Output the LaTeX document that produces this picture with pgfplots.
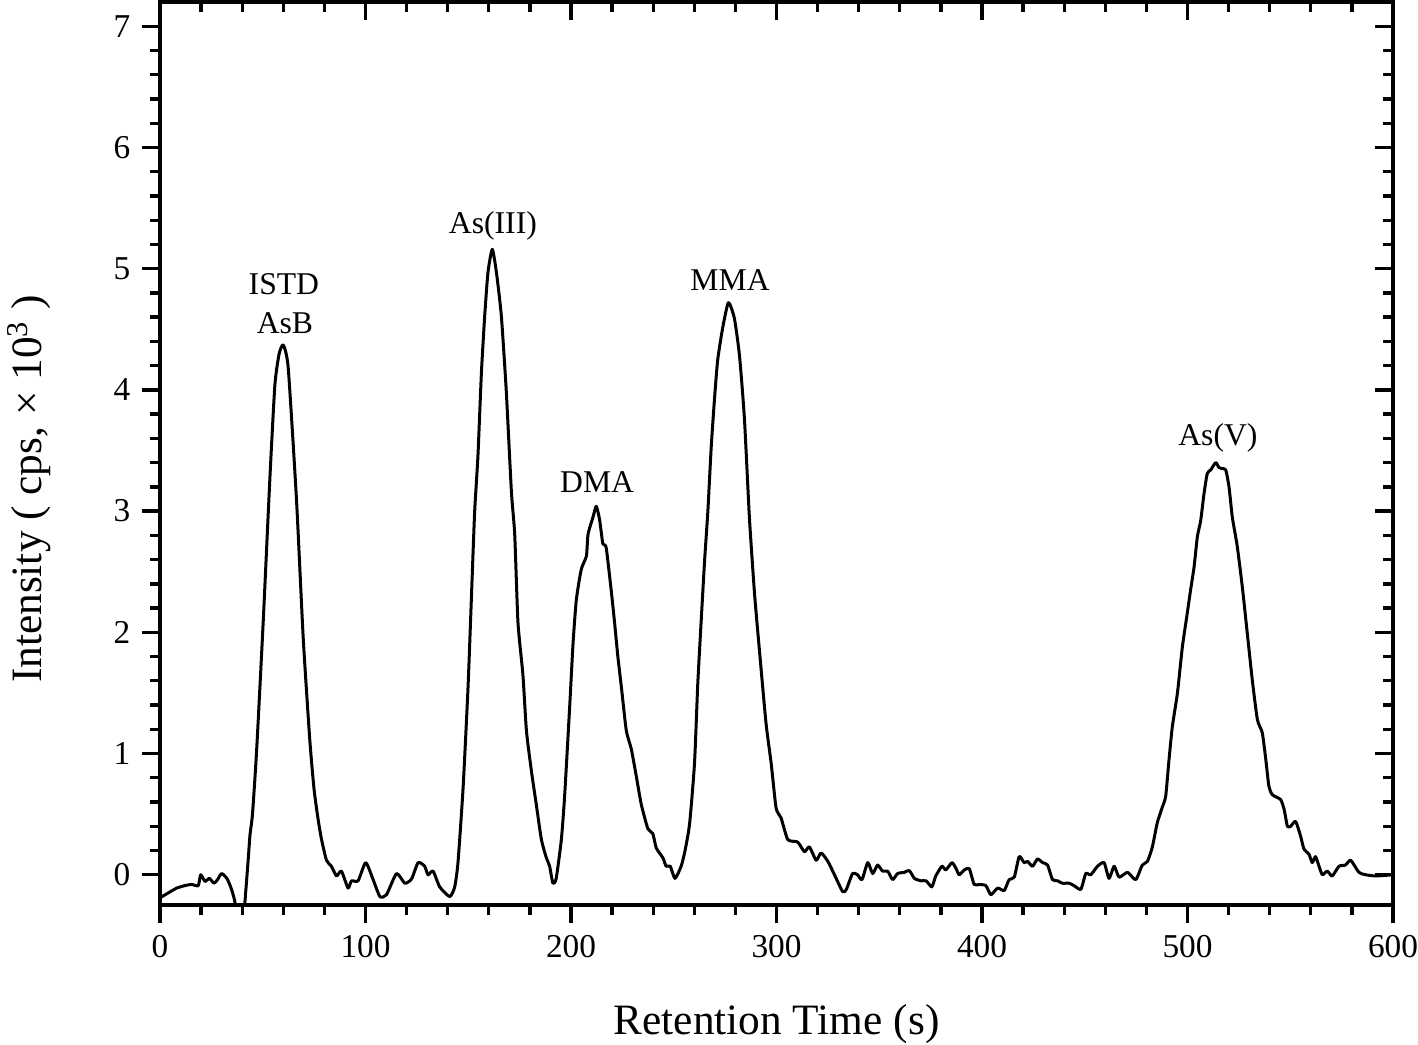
\documentclass[border=0pt]{standalone}
\usepackage{fontspec}
\setmainfont{Liberation Serif}
\usepackage{pgfplots}
\pgfplotsset{compat=1.18}

\pgfplotsset{
  chrom/.style={
    scale only axis, width=369.9pt, height=270.9pt,
    xmin=0, xmax=600, ymin=-0.25, ymax=7.2,
    xtick={0,100,...,600}, ytick={0,1,...,7},
    minor x tick num=4, minor y tick num=4,
    axis line style={line width=1.2pt},
    every tick/.style={black, line width=1pt},
    major tick length=5.4pt, minor tick length=3pt,
    tick label style={font=\fontsize{10}{12}\selectfont},
    /pgf/number format/assume math mode=true,
  }
}

\begin{document}
\begin{tikzpicture}
\begin{axis}[chrom, name=main,
    tick align=outside, tick pos=left,
    xlabel={Retention Time (s)},
    ylabel={Intensity ( cps, × 10\textsuperscript{3} )},
    xlabel style={font=\fontsize{13}{15}\selectfont,
                  at={(axis description cs:0.5,-0.143)}, anchor=base},
    ylabel style={font=\fontsize{13}{15}\selectfont,
                  at={(axis description cs:-0.0957,0.4607)}, anchor=base},
]
\addplot[black, line width=0.9pt, line join=round, smooth, tension=0.35] coordinates {
(0.0,-0.19) (4,-0.15) (8.1,-0.11) (12,-0.09) (15.4,-0.08) (18.6,-0.09)
(19.8,0.0) (21.9,-0.055) (24,-0.03) (26.3,-0.07) (28,-0.04) (30,0.01)
(32.7,-0.035) (34.8,-0.12) (36.5,-0.23) (38.5,-0.5) (40,-0.5) (41.3,-0.23)
(42.9,0.12) (43.8,0.33) (45,0.5) (47.0,1.02) (50.2,2.08) (53.5,3.28)
(55.9,4.04) (58,4.3) (60.0,4.37) (62.4,4.18) (66.4,3.1) (69.7,1.95)
(72.9,1.11) (75,0.7) (77.0,0.45) (78.5,0.3) (81,0.12) (83.4,0.07)
(85.9,-0.01) (88.3,0.03) (91.5,-0.11) (93.2,-0.05) (96.4,-0.05) (100.1,0.1)
(103.7,-0.04) (107,-0.18) (110.2,-0.165) (115.1,0.01) (119.1,-0.07)
(122.4,-0.035) (125.6,0.1) (128.8,0.07) (130.4,0.0) (132.9,0.03)
(136.1,-0.1) (141,-0.18) (143.4,-0.1) (145,0.1) (147.5,0.72) (149.9,1.55)
(151.5,2.27) (153.1,2.99) (154.7,3.45) (156.4,4.14) (158,4.61) (159.6,4.97)
(161.7,5.16) (163.7,4.97) (166.1,4.61) (168.5,3.99) (171,3.16) (172.6,2.81)
(174.2,2.08) (176.6,1.65) (178.3,1.19) (180.7,0.86) (183.1,0.58)
(185.6,0.29) (188,0.14) (189.6,0.07) (191.2,-0.07) (192.8,-0.03)
(195.3,0.29) (196.9,0.65) (199.3,1.37) (201,1.91) (202.6,2.27) (205,2.52)
(207.5,2.63) (208.3,2.81) (210.7,2.95) (212.3,3.04) (213.9,2.93)
(215.5,2.73) (217.1,2.7) (219.6,2.34) (221.2,2.08) (222.8,1.8) (224.5,1.55)
(226.9,1.19) (229.3,1.04) (231.7,0.82) (234.2,0.58) (237.4,0.38)
(239.8,0.34) (241.5,0.22) (244.7,0.14) (246.3,0.07) (248.3,0.07)
(250.6,-0.03) (253.6,0.07) (255.5,0.2) (257.7,0.42) (260.1,0.92)
(261.7,1.58) (263.3,2.08) (265,2.59) (266.6,3.0) (268.2,3.52) (269.8,3.92)
(271.4,4.25) (273.9,4.52) (276.6,4.72) (279.5,4.59) (282,4.28) (284.4,3.76)
(286.8,2.95) (289.3,2.32) (291.7,1.85) (294.9,1.25) (297.4,0.92)
(299.8,0.55) (302.2,0.47) (305.5,0.29) (310.3,0.27) (313.6,0.19)
(316,0.23) (319.3,0.12) (321.7,0.18) (325,0.11) (328.2,0.0) (332.2,-0.14)
(334,-0.12) (337,0.01) (339.4,0.0) (341.6,-0.04) (344.4,0.1) (346.8,0.01)
(349.2,0.08) (351.6,0.03) (354.1,0.03) (356.5,-0.04) (358.9,0.01)
(362.2,0.02) (364.6,0.035) (367.1,-0.03) (370.3,-0.05) (372.8,-0.05)
(375.6,-0.1) (377.5,-0.01) (380.5,0.07) (382.4,0.04) (385.4,0.1)
(387.4,0.05) (388.9,0.0) (391.4,0.04) (393.8,0.05) (396.2,-0.08)
(398.7,-0.08) (401.9,-0.09) (404.3,-0.165) (407.6,-0.11) (410.8,-0.13)
(413.2,-0.04) (415.7,-0.02) (418.1,0.15) (420.5,0.1) (422.2,0.11)
(424.6,0.07) (427,0.13) (429.5,0.1) (431.9,0.08) (434.3,-0.04)
(436.8,-0.05) (439.1,-0.07) (442.4,-0.07) (444.8,-0.09) (448.1,-0.12)
(450.5,0.01) (452.9,0.0) (456.2,0.07) (459.4,0.1) (461.8,-0.03)
(464.3,0.07) (466.7,-0.02) (470.8,0.02) (474.8,-0.04) (478,0.08)
(480.5,0.11) (482.9,0.23) (485.3,0.43) (487.8,0.56) (489.4,0.65)
(491,0.95) (492.6,1.22) (495.1,1.5) (497.5,1.88) (499.9,2.16) (501.5,2.35)
(503.2,2.54) (504.8,2.79) (506.4,2.92) (508,3.14) (509.6,3.31) (511.3,3.34)
(513.7,3.40) (515.3,3.36) (516.9,3.35) (518.6,3.34) (520.2,3.2) (521.8,2.95)
(524.2,2.71) (526.7,2.37) (529.1,1.99) (531.5,1.61) (534,1.28) (536.4,1.17)
(538.1,0.95) (539.6,0.73) (541.3,0.66) (545.3,0.62) (547,0.54) (548.6,0.4)
(550.2,0.4) (552.6,0.44) (555,0.32) (556.7,0.21) (559.1,0.17) (560.7,0.1)
(562.3,0.15) (564,0.07) (565.6,0.0) (568,0.03) (570.4,-0.01) (573.7,0.07)
(576.9,0.08) (579.4,0.12) (583.4,0.02) (586.7,0.0) (591.6,-0.01) (600,0.0)
};
\begin{scope}[font=\fontsize{9.5}{11}\selectfont]
\node at (axis cs:60.3,4.87) {ISTD};
\node at (axis cs:60.8,4.55) {AsB};
\node at (axis cs:162,5.35) {As(III)};
\node at (axis cs:212.7,3.24) {DMA};
\node at (axis cs:277.4,4.91) {MMA};
\node at (axis cs:514.8,3.6) {As(V)};
\end{scope}
\end{axis}
% mirrored ticks on top and right, pointing inward
\begin{scope}[overlay]
\begin{axis}[chrom, tick align=inside, tick pos=right,
    xticklabels={}, yticklabels={}]
\end{axis}
\end{scope}
% page size as in the reference
\pgfresetboundingbox
\path (main.south west) ++(-48pt,-41.7pt)
      rectangle ([shift={(7.5pt,0.6pt)}]main.north east);
\end{tikzpicture}
\end{document}
